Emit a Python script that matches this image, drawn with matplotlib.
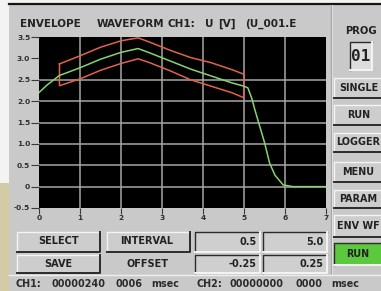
import matplotlib.pyplot as plt
from matplotlib.patches import Rectangle
import numpy as np

# measured curve (green), time axis 0..7
t_meas = [0.0, 0.2, 0.5, 1.0, 1.5, 2.0, 2.42, 2.7, 3.2, 3.7, 4.2, 4.7, 5.0, 5.1,
          5.2, 5.27, 5.39, 5.51, 5.63, 5.76, 5.96, 6.2, 7.0]
u_meas = [2.20, 2.38, 2.60, 2.78, 2.98, 3.14, 3.23, 3.13, 2.94, 2.75, 2.59, 2.43, 2.35, 2.31,
          2.05, 1.80, 1.41, 1.02, 0.55, 0.27, 0.04, 0.0, 0.0]

# envelope limits (red), drawn from 0.5 to 5.0
t_env = [0.5, 1.0, 1.5, 2.0, 2.42, 2.7, 3.2, 3.7, 4.2, 4.7, 5.0]
u_upper = [2.87, 3.06, 3.26, 3.41, 3.48, 3.38, 3.19, 3.02, 2.90, 2.74, 2.63]
u_lower = [2.36, 2.52, 2.72, 2.88, 2.99, 2.90, 2.71, 2.50, 2.35, 2.20, 2.08]

x_ticks = [0, 1, 2, 3, 4, 5, 6, 7]
y_ticks = [-0.5, 0, 0.5, 1.0, 1.5, 2.0, 2.5, 3.0, 3.5]
y_labels = ['-0.5', '0', '0.5', '1.0', '1.5', '2.0', '2.5', '3.0', '3.5']

W, H = 381, 291
BG = '#c9c9c9'
TXT = '#222222'
FONT = 'DejaVu Sans'

fig = plt.figure(figsize=(W / 100, H / 100), dpi=100)
fig.patch.set_facecolor(BG)

# full-figure layer in pixel coordinates for the panel decoration
ui = fig.add_axes([0, 0, 1, 1], zorder=0)
ui.set_xlim(0, W)
ui.set_ylim(H, 0)
ui.axis('off')


def px2pt(px):
    return px * 72 / 100


def txt(x, yc, s, px=10, ha='center', color=TXT, weight='bold', family=FONT):
    # yc = vertical centre of the capitals
    ui.text(x, yc + 0.729 * px / 2, s, fontsize=px2pt(px), ha=ha, va='baseline',
            color=color, fontweight=weight, family=family)


def box(x0, y0, x1, y1, face='#cdcdcd', sunken=False, lw_dark=1.4):
    ui.add_patch(Rectangle((x0, y0), x1 - x0, y1 - y0, facecolor=face, edgecolor='none'))
    light, dark = '#f4f4f4', '#2b2b2b'
    if sunken:
        light, dark = dark, light
    ui.plot([x0, x0, x1], [y1, y0, y0], color=light, lw=1.0)
    ui.plot([x0, x1, x1], [y1, y1, y0], color=dark, lw=lw_dark)


# surroundings of the screen
ui.add_patch(Rectangle((0, 0), 9, 183, facecolor='#f3f3f1', edgecolor='none'))
ui.add_patch(Rectangle((0, 183), 9, H - 183, facecolor='#d3caa6', edgecolor='none'))
ui.add_patch(Rectangle((0, 0), W, 3.5, facecolor='#f3f3f1', edgecolor='none'))
ui.plot([9, W], [4.2, 4.2], color='#151515', lw=1.6)

# separators
ui.plot([331, 331], [5, 274], color='#a9a9a9', lw=1.0)
ui.plot([331.8, 331.8], [5, 274], color='#e4e4e4', lw=0.6)
ui.plot([9, W], [274.5, 274.5], color='#eeeeee', lw=1.0)

# title, word by word
title_words = ['ENVELOPE', 'WAVEFORM', 'CH1:', 'U', '[V]', '(U_001.E']
title_x = [20, 96.5, 168, 205, 218, 245]
for w, x in zip(title_words, title_x):
    txt(x, 23.3, w, px=10.4, ha='left')

# right panel
txt(361, 30, 'PROG', px=10)
box(350, 41.7, 372, 70, face='#dcdcdc', sunken=True)
ui.text(361, 56.5, '01', fontsize=px2pt(16), ha='center', va='center',
        color=TXT, family='DejaVu Sans Mono', fontweight='bold')

side_buttons = ['SINGLE', 'RUN', 'LOGGER', 'MENU', 'PARAM', 'ENV WF']
side_y = [(78.3, 98.3), (105, 125), (133, 152), (161.7, 181.7), (190, 208.3), (215, 236.7)]
for lab, (y0, y1) in zip(side_buttons, side_y):
    box(333.5, y0, 386, y1)
    txt(358.5, (y0 + y1) / 2 - 0.5, lab, px=9.6)

box(333.5, 243.3, 386, 265, face='#5cc83e', sunken=True)
txt(358, 253.5, 'RUN', px=9.6)

# bottom controls
box(16.7, 231.7, 100, 251.7)
txt(58.3, 240.7, 'SELECT', px=9.8)
box(106.7, 231.7, 190, 251.7)
txt(147, 240.7, 'INTERVAL', px=9.8)
box(16.7, 255, 100, 273.3)
txt(58.3, 263.5, 'SAVE', px=9.8)
txt(147.5, 263.5, 'OFFSET', px=9.8)

fields = [(195, 231.7, 260, 251.7, '0.5'), (263.3, 231.7, 326.7, 251.7, '5.0'),
          (195, 255, 260, 273.3, '-0.25'), (263.3, 255, 326.7, 273.3, '0.25')]
for x0, y0, x1, y1, s in fields:
    box(x0, y0, x1, y1, face='#cfcfcf', sunken=True)
    txt(x1 - 3.5, (y0 + y1) / 2 - 0.5, s, px=9.8, ha='right')

# status bar
status_words = ['CH1:', '00000240', '0006', 'msec', 'CH2:', '00000000', '0000', 'msec']
status_x = [16, 51.7, 115, 151.7, 196.7, 230, 295, 331.7]
for w, x in zip(status_words, status_x):
    txt(x, 283.3, w, px=9.6, ha='left', color='#2a2a2a')

# waveform plot
left, right, top, bottom = 39, 325.7, 37, 208
ax = fig.add_axes([left / W, (H - bottom) / H, (right - left) / W, (bottom - top) / H], zorder=2)
ax.set_facecolor('black')
for s in ax.spines.values():
    s.set_visible(False)

for y in y_ticks[1:-2]:
    ax.axhline(y, color='#a6a6a6', lw=1.1, zorder=1)
for x in x_ticks[1:-1]:
    ax.axvline(x, color='#a6a6a6', lw=1.1, zorder=1)

env_t = np.concatenate([t_env, t_env[::-1], t_env[:1]])
env_u = np.concatenate([u_upper, u_lower[::-1], u_upper[:1]])
ax.plot(env_t, env_u, color='#e0634b', lw=1.1, zorder=3)
ax.plot(t_meas, u_meas, color='#86d46e', lw=1.1, zorder=4)

ax.set_xlim(0, 7)
ax.set_ylim(-0.5, 3.5)
ax.set_xticks(x_ticks)
ax.set_xticklabels([str(v) for v in x_ticks])
ax.set_yticks(y_ticks)
ax.set_yticklabels(y_labels)
ax.tick_params(axis='y', direction='out', length=5.5, width=0.8, color='#3a3a3a',
               labelsize=px2pt(7.5), labelcolor='#2e2e2e', pad=0.8)
ax.tick_params(axis='x', direction='out', length=4.5, width=0.8, color='#3a3a3a',
               labelsize=px2pt(7.5), labelcolor='#2e2e2e', pad=0.3)
for lab in ax.get_xticklabels() + ax.get_yticklabels():
    lab.set_fontweight('bold')

fig.savefig('out.png', dpi=100, facecolor=fig.get_facecolor())
